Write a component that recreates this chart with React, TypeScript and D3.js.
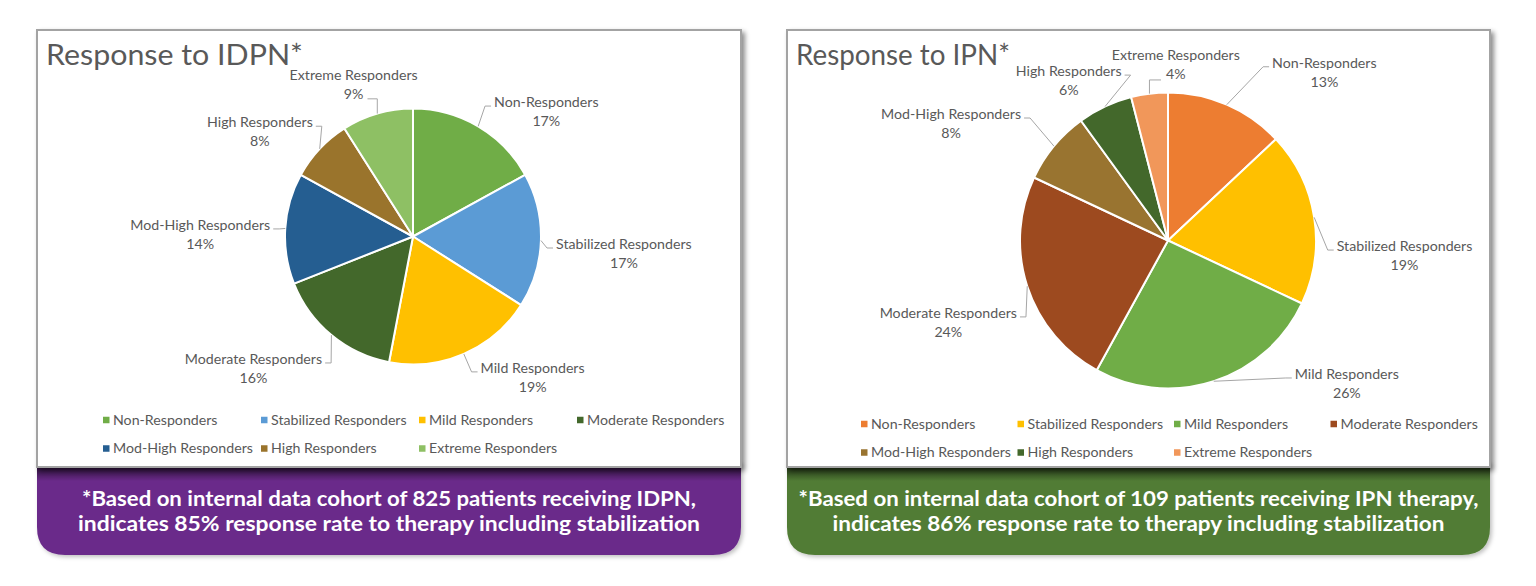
import React, { useEffect, useRef } from "react";
import * as d3 from "d3";

// ---------- data ----------
const categories = [
  "Non-Responders",
  "Stabilized Responders",
  "Mild Responders",
  "Moderate Responders",
  "Mod-High Responders",
  "High Responders",
  "Extreme Responders",
];

const idpnValues = [17, 17, 19, 16, 14, 8, 9];
const ipnValues = [13, 19, 26, 24, 8, 6, 4];

const idpnColors = ["#70AD47", "#5B9BD5", "#FFC000", "#43682B", "#255E91", "#9A742C", "#8EC064"];
const ipnColors = ["#ED7D31", "#FFC000", "#70AD47", "#9D4A1F", "#997430", "#43682B", "#F1975A"];

const idpnTitle = "Response to IDPN*";
const ipnTitle = "Response to IPN*";

const idpnFootnote = [
  "*Based on internal data cohort of 825 patients receiving IDPN,",
  "indicates 85% response rate to therapy including stabilization",
];
const ipnFootnote = [
  "*Based on internal data cohort of 109 patients receiving IPN therapy,",
  "indicates 86% response rate to therapy including stabilization",
];

// ---------- layout (label nudges: [angle offset deg, distance beyond radius]) ----------
const idpnLabelNudge = [[0.3, 24], [2.9, 12.5], [-2.1, 22], [-4.8, 26], [-0.5, 12], [5.4, 19], [-2.1, 17]];
const idpnLabelMode = ["R", "R", "R", "L", "L", "L", "TL"];
const ipnLabelNudge = [[6.8, 53], [12.3, 18], [-24, 37], [-9.3, 18.6], [0.8, 41], [10.5, 23], [4.7, 12.7]];
const ipnLabelMode = ["R", "R", "R", "L", "L", "L", "TR"];

const W = 1536;
const H = 586;

const panels = [
  {
    title: idpnTitle,
    titleLen: 257,
    values: idpnValues,
    colors: idpnColors,
    footnote: idpnFootnote,
    footLen: [614, 622],
    banner: "#6A2C8A",
    box: { x: 37, y: 30, w: 704, h: 437 },
    pie: { cx: 413, cy: 236.5, r: 128 },
    nudge: idpnLabelNudge,
    modes: idpnLabelMode,
    colW: 158,
  },
  {
    title: ipnTitle,
    titleLen: 214,
    values: ipnValues,
    colors: ipnColors,
    footnote: ipnFootnote,
    footLen: [680, 612],
    banner: "#517C35",
    box: { x: 787, y: 30, w: 703, h: 437 },
    pie: { cx: 1168, cy: 240.5, r: 148 },
    nudge: ipnLabelNudge,
    modes: ipnLabelMode,
    colW: 156.5,
  },
];

const FONT = "Lato, 'Open Sans', sans-serif";
const TEXT = "#595959";
const LABEL_SIZE = 14.2;

export default function App() {
  const ref = useRef<SVGSVGElement | null>(null);

  useEffect(() => {
    const svg = d3.select(ref.current);
    svg.selectAll("*").remove();

    const defs = svg.append("defs");
    const f = defs.append("filter").attr("id", "boxShadow").attr("x", "-5%").attr("y", "-5%").attr("width", "110%").attr("height", "115%");
    f.append("feDropShadow").attr("dx", 3).attr("dy", 3).attr("stdDeviation", 2.5).attr("flood-color", "#000").attr("flood-opacity", 0.45);
    const bf = defs.append("filter").attr("id", "bannerShadow").attr("x", "-5%").attr("y", "-10%").attr("width", "110%").attr("height", "130%");
    bf.append("feDropShadow").attr("dx", 2).attr("dy", 2).attr("stdDeviation", 2).attr("flood-color", "#000").attr("flood-opacity", 0.25);
    const grad = defs.append("linearGradient").attr("id", "topShade").attr("x1", 0).attr("y1", 0).attr("x2", 0).attr("y2", 1);
    grad.append("stop").attr("offset", "0%").attr("stop-color", "#000").attr("stop-opacity", 0.6);
    grad.append("stop").attr("offset", "100%").attr("stop-color", "#000").attr("stop-opacity", 0);

    svg.append("rect").attr("width", W).attr("height", H).attr("fill", "#fff");

    panels.forEach((p) => {
      const g = svg.append("g");
      const { x, y, w, h } = p.box;
      const bTop = y + h;
      const bBot = 555;
      const rad = 28;

      // banner
      const bp = d3.path();
      bp.moveTo(x, bTop - 5);
      bp.lineTo(x + w, bTop - 5);
      bp.lineTo(x + w, bBot - rad);
      bp.quadraticCurveTo(x + w, bBot, x + w - rad, bBot);
      bp.lineTo(x + rad, bBot);
      bp.quadraticCurveTo(x, bBot, x, bBot - rad);
      bp.closePath();
      g.append("path").attr("d", bp.toString()).attr("fill", p.banner).attr("filter", "url(#bannerShadow)");
      g.append("rect").attr("x", x).attr("y", bTop).attr("width", w).attr("height", 14).attr("fill", "url(#topShade)");

      p.footnote.forEach((line, i) => {
        g.append("text")
          .attr("x", x + w / 2)
          .attr("y", 506 + i * 25)
          .attr("text-anchor", "middle")
          .attr("font-family", FONT)
          .attr("font-weight", 700)
          .attr("font-size", 21)
          .attr("fill", "#fff")
          .attr("textLength", p.footLen[i])
          .attr("lengthAdjust", "spacingAndGlyphs")
          .text(line);
      });

      // chart box
      g.append("rect")
        .attr("x", x)
        .attr("y", y)
        .attr("width", w)
        .attr("height", h)
        .attr("fill", "#fff")
        .attr("stroke", "#A3A3A3")
        .attr("stroke-width", 2)
        .attr("filter", "url(#boxShadow)");

      g.append("text")
        .attr("x", x + 9)
        .attr("y", y + 34.5)
        .attr("font-family", FONT)
        .attr("font-size", 28)
        .attr("fill", TEXT)
        .attr("textLength", p.titleLen)
        .attr("lengthAdjust", "spacingAndGlyphs")
        .text(p.title);

      // pie
      const { cx, cy, r } = p.pie;
      const pie = d3.pie<number>().sort(null).value((d) => d);
      const arcs = pie(p.values);
      const arc = d3.arc<d3.PieArcDatum<number>>().innerRadius(0).outerRadius(r);
      const pg = g.append("g").attr("transform", `translate(${cx},${cy})`);
      pg.selectAll("path")
        .data(arcs)
        .join("path")
        .attr("d", arc)
        .attr("fill", (_, i) => p.colors[i])
        .attr("stroke", "#fff")
        .attr("stroke-width", 2)
        .attr("stroke-linejoin", "round");

      // labels
      const lg = g.append("g");
      arcs.forEach((d, i) => {
        const mid = (d.startAngle + d.endAngle) / 2;
        const a = mid + (p.nudge[i][0] * Math.PI) / 180;
        const R = r + p.nudge[i][1];
        const ex = cx + R * Math.sin(a);
        const ey = cy - R * Math.cos(a);
        const px = cx + r * Math.sin(mid);
        const py = cy - r * Math.cos(mid);

        const nameT = lg.append("text")
          .attr("font-family", FONT)
          .attr("font-size", LABEL_SIZE)
          .attr("fill", TEXT)
          .attr("text-anchor", "middle")
          .attr("dy", "0.35em")
          .text(categories[i]);
        const pctT = lg.append("text")
          .attr("font-family", FONT)
          .attr("font-size", LABEL_SIZE)
          .attr("fill", TEXT)
          .attr("text-anchor", "middle")
          .attr("dy", "0.35em")
          .text(`${p.values[i]}%`);
        const wN = (nameT.node() as SVGTextElement).getComputedTextLength();
        const wP = (pctT.node() as SVGTextElement).getComputedTextLength();

        const mode = p.modes[i];
        let center = 0;
        let nameMid = 0;
        let elbow: [number, number] = [ex, ey];
        if (mode === "R") {
          center = ex + 3 + wN / 2;
          nameMid = ey - 4;
          elbow = [ex - 6, ey];
        } else if (mode === "L") {
          center = ex - 3 - wN / 2;
          nameMid = ey - 4;
          elbow = [ex + 6, ey];
        } else if (mode === "TL") {
          center = ex - 4 - wP / 2;
          nameMid = ey - 5 - 19;
          elbow = [px, ey];
        } else {
          center = ex + 5 + wP / 2;
          nameMid = ey - 6 - 19;
          elbow = [px, ey];
        }
        nameT.attr("x", center).attr("y", nameMid);
        pctT.attr("x", center).attr("y", nameMid + 19);

        const lp = d3.line()([[px, py], elbow, [ex, ey]]);
        lg.append("path")
          .attr("d", lp)
          .attr("fill", "none")
          .attr("stroke", "#A6A6A6")
          .attr("stroke-width", 1);
      });

      // legend
      const lx0 = cx - 2 * p.colW + 6;
      const ly0 = cy + 183.5;
      const leg = g.append("g");
      categories.forEach((c, i) => {
        const row = i < 4 ? 0 : 1;
        const col = i < 4 ? i : i - 4;
        const lx = lx0 + col * p.colW;
        const ly = ly0 + row * 28.5;
        leg.append("rect").attr("x", lx).attr("y", ly - 3.25).attr("width", 6.5).attr("height", 6.5).attr("fill", p.colors[i]);
        leg.append("text")
          .attr("x", lx + 10)
          .attr("y", ly)
          .attr("dy", "0.35em")
          .attr("font-family", FONT)
          .attr("font-size", LABEL_SIZE)
          .attr("fill", TEXT)
          .text(c);
      });
    });
  }, []);

  return (
    <svg
      ref={ref}
      width={W}
      height={H}
      style={{ position: "absolute", left: 0, top: 0, display: "block" }}
    />
  );
}
